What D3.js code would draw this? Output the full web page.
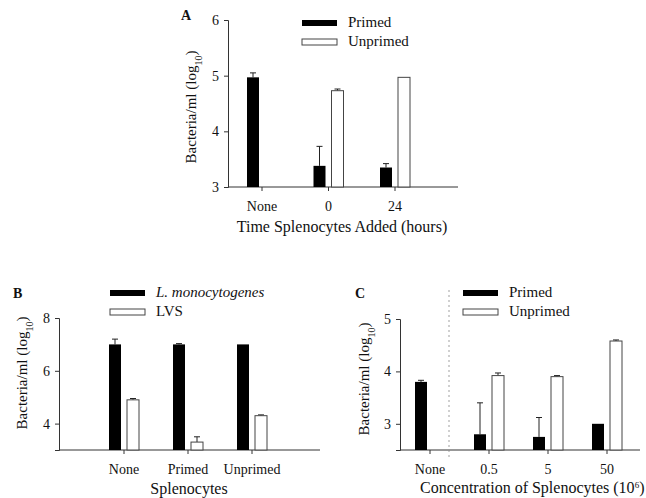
<!DOCTYPE html>
<html>
<head>
<meta charset="utf-8">
<script src="https://cdn.jsdelivr.net/npm/d3@7"></script>
<style>
  body { margin: 0; background: #fff; }
  text { font-family: "Liberation Serif", "Times New Roman", serif; fill: #111; }
</style>
</head>
<body>
<svg id="fig" width="646" height="498"></svg>
<script>
// Panel A data
const catsA = ["None", "0", "24"];
const primedA = [4.97, 3.38, 3.35];
const primedErrA = [5.05, 3.73, 3.42];
const unprimedA = [null, 4.73, 4.97];
const unprimedErrA = [null, 4.76, 4.97];
const ticksA = [3, 4, 5, 6];

// Panel B data
const catsB = ["None", "Primed", "Unprimed"];
const listeriaB = [7.0, 7.0, 7.0];
const listeriaErrB = [7.2, 7.03, 7.0];
const lvsB = [4.9, 3.3, 4.3];
const lvsErrB = [4.95, 3.5, 4.33];
const ticksB = [4, 6, 8];

// Panel C data
const catsC = ["None", "0.5", "5", "50"];
const primedC = [3.8, 2.8, 2.75, 3.0];
const primedErrC = [3.83, 3.4, 3.12, 3.0];
const unprimedC = [null, 3.92, 3.9, 4.58];
const unprimedErrC = [null, 3.97, 3.92, 4.6];
const ticksC = [3, 4, 5];

const svg = d3.select("#fig");

function panel(opt) {
  const g = svg.append("g");
  const y = d3.scaleLinear().domain(opt.yDomain).range([opt.bottom, opt.top]);
  const x = d3.scalePoint().domain(opt.cats).range(opt.xRange);

  // y axis
  const ya = g.append("g")
    .attr("transform", `translate(${opt.left},0)`)
    .call(d3.axisLeft(y).tickValues(opt.ticks).tickSize(4).tickPadding(5).tickFormat(d3.format("d")));
  ya.select(".domain").attr("stroke", "#333");
  ya.selectAll(".tick line").attr("stroke", "#333");
  ya.selectAll(".tick text").style("font-size", "14px").style("font-family", "Liberation Serif").attr("fill", "#111");

  // x axis line + category ticks
  g.append("line")
    .attr("x1", opt.left).attr("x2", opt.right)
    .attr("y1", opt.bottom).attr("y2", opt.bottom)
    .attr("stroke", "#333");
  g.selectAll(".xt").data(opt.cats).enter().append("line")
    .attr("x1", d => x(d)).attr("x2", d => x(d))
    .attr("y1", opt.bottom).attr("y2", opt.bottom + 4)
    .attr("stroke", "#333");
  g.selectAll(".xl").data(opt.cats).enter().append("text")
    .attr("x", d => x(d)).attr("y", opt.bottom + 24)
    .attr("text-anchor", "middle")
    .style("font-size", "14px")
    .text(d => d);

  const bw = 12;
  // series
  opt.series.forEach((s, si) => {
    const off = si === 0 ? -15 : 3;
    s.vals.forEach((v, i) => {
      if (v == null) return;
      const cx = x(opt.cats[i]) + off;
      const e = s.err[i];
      if (e != null && e > v) {
        g.append("line").attr("x1", cx + bw / 2).attr("x2", cx + bw / 2)
          .attr("y1", y(v)).attr("y2", y(e)).attr("stroke", "#222");
        g.append("line").attr("x1", cx + bw / 2 - 3).attr("x2", cx + bw / 2 + 3)
          .attr("y1", y(e)).attr("y2", y(e)).attr("stroke", "#222");
      }
      g.append("rect")
        .attr("x", cx).attr("width", bw)
        .attr("y", y(v)).attr("height", opt.bottom - y(v))
        .attr("fill", s.fill)
        .attr("stroke", s.fill === "#000" ? "none" : "#444")
        .attr("stroke-width", 1);
    });
  });

  // legend
  opt.series.forEach((s, si) => {
    const ly = opt.legend.y + si * 19;
    g.append("rect")
      .attr("x", opt.legend.x).attr("y", ly - 7)
      .attr("width", 35).attr("height", 6)
      .attr("fill", s.fill)
      .attr("stroke", s.fill === "#000" ? "none" : "#444");
    g.append("text")
      .attr("x", opt.legend.x + 46).attr("y", ly)
      .style("font-size", "15px")
      .style("font-style", s.italic ? "italic" : "normal")
      .text(s.name);
  });

  // panel label
  g.append("text")
    .attr("x", opt.label.x).attr("y", opt.label.y)
    .style("font-size", "14px").style("font-weight", "bold")
    .text(opt.label.t);

  // y title
  const yt = g.append("text")
    .attr("transform", `translate(${opt.yTitle.x},${opt.yTitle.y}) rotate(-90)`)
    .attr("text-anchor", "middle")
    .style("font-size", "15px");
  yt.append("tspan").text("Bacteria/ml (log");
  yt.append("tspan").attr("baseline-shift", "sub").style("font-size", "10px").text("10");
  yt.append("tspan").text(")");

  // x title
  const xt = g.append("text")
    .attr("x", opt.xTitle.x).attr("y", opt.xTitle.y)
    .attr("text-anchor", opt.xTitle.anchor || "middle")
    .style("font-size", "16px");
  xt.append("tspan").text(opt.xTitle.t);
  if (opt.xTitle.sup) {
    xt.append("tspan").attr("baseline-shift", "super").style("font-size", "9px").text(opt.xTitle.sup);
    xt.append("tspan").text(")");
  }
  return g;
}

panel({
  cats: catsA, yDomain: [3, 6], ticks: ticksA,
  top: 20, bottom: 187, left: 228, right: 458, xRange: [262, 395],
  series: [
    {name: "Primed", vals: primedA, err: primedErrA, fill: "#000"},
    {name: "Unprimed", vals: unprimedA, err: unprimedErrA, fill: "#fff"}
  ],
  legend: {x: 302, y: 27},
  label: {x: 181, y: 20, t: "A"},
  yTitle: {x: 196, y: 107},
  xTitle: {x: 342, y: 232, t: "Time Splenocytes Added (hours)"}
});

panel({
  cats: catsB, yDomain: [3, 8], ticks: ticksB,
  top: 318, bottom: 450, left: 59, right: 320, xRange: [124, 252],
  series: [
    {name: "L. monocytogenes", vals: listeriaB, err: listeriaErrB, fill: "#000", italic: true},
    {name: "LVS", vals: lvsB, err: lvsErrB, fill: "#fff"}
  ],
  legend: {x: 110, y: 297},
  label: {x: 13, y: 298, t: "B"},
  yTitle: {x: 27, y: 373},
  xTitle: {x: 189, y: 494, t: "Splenocytes"}
});

const gC = panel({
  cats: catsC, yDomain: [2.5, 5], ticks: ticksC,
  top: 319, bottom: 450, left: 400, right: 640, xRange: [430, 607],
  series: [
    {name: "Primed", vals: primedC, err: primedErrC, fill: "#000"},
    {name: "Unprimed", vals: unprimedC, err: unprimedErrC, fill: "#fff"}
  ],
  legend: {x: 463, y: 297},
  label: {x: 355, y: 298, t: "C"},
  yTitle: {x: 369, y: 379},
  xTitle: {x: 420, y: 493, t: "Concentration of Splenocytes (10", sup: "6", anchor: "start"}
});

// faint scan artefact line in panel C
gC.append("line")
  .attr("x1", 449).attr("x2", 449).attr("y1", 290).attr("y2", 460)
  .attr("stroke", "#888").attr("stroke-dasharray", "2,3").attr("stroke-width", 0.8);
</script>
</body>
</html>
